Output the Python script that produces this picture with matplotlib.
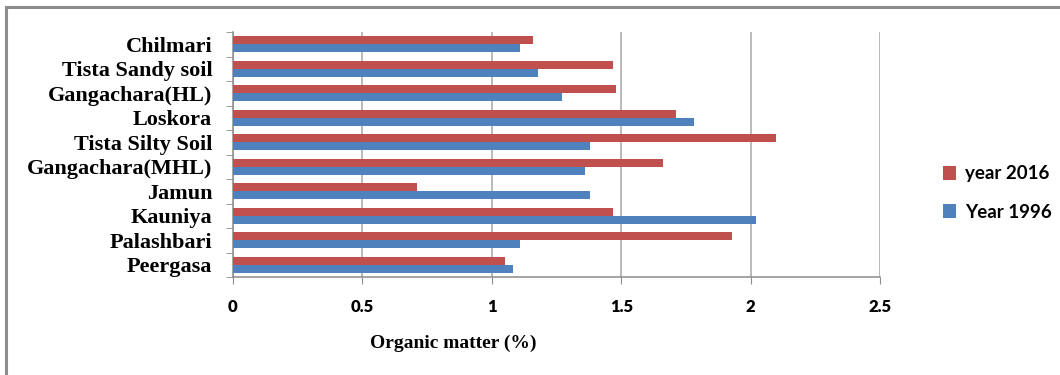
import numpy as np
import matplotlib
matplotlib.use("Agg")
import matplotlib.pyplot as plt
from matplotlib.patches import Rectangle

# Data (bottom to top as drawn)
sites = ['Peergasa', 'Palashbari', 'Kauniya', 'Jamun', 'Gangachara(MHL)',
         'Tista Silty Soil', 'Loskora', 'Gangachara(HL)', 'Tista Sandy soil', 'Chilmari']
year_2016 = [1.05, 1.93, 1.47, 0.71, 1.66, 2.10, 1.71, 1.48, 1.47, 1.16]
year_1996 = [1.08, 1.11, 2.02, 1.38, 1.36, 1.38, 1.78, 1.27, 1.18, 1.11]
x_ticks = [0, 0.5, 1, 1.5, 2, 2.5]

red = '#C0504D'
blue = '#4F81BD'

fig = plt.figure(figsize=(10.6, 3.75), dpi=100)
ax = fig.add_axes([233 / 1060, 1 - 277 / 375, (880 - 233) / 1060, (277 - 32) / 375])

# outer chart border (only top/left fall inside the image)
fig.patches.append(Rectangle((5.5 / 1060, -0.5), 2.0, 1 - 6.5 / 375 + 0.5,
                             transform=fig.transFigure, fill=False,
                             edgecolor='#8c8c8c', linewidth=2.2))

y = np.arange(len(sites))
h = 0.33
ax.barh(y + h / 2, year_2016, height=h, color=red, label='year 2016', zorder=3)
ax.barh(y - h / 2, year_1996, height=h, color=blue, label='Year 1996', zorder=3)

ax.set_xlim(0, 2.5)
ax.set_ylim(-0.5, len(sites) - 0.5)

# x axis
ax.set_xticks(x_ticks)
ax.set_xticklabels(['0', '0.5', '1', '1.5', '2', '2.5'],
                   fontfamily='Lato', fontweight='heavy', fontsize=12)
ax.tick_params(axis='x', length=5, color='#8c8c8c', pad=11)
ax.grid(axis='x', color='#a6a6a6', linewidth=1.1, zorder=0)

# y axis
ax.set_yticks(y)
ax.set_yticklabels(sites, fontfamily='Liberation Serif', fontweight='bold', fontsize=16)
ax.set_yticks(np.arange(-0.5, len(sites)), minor=True)
ax.tick_params(axis='y', which='major', length=0, pad=15)
ax.tick_params(axis='y', which='minor', length=5, color='#8c8c8c')

for s in ['top', 'right']:
    ax.spines[s].set_visible(False)
for s in ['left', 'bottom']:
    ax.spines[s].set_color('#8c8c8c')
    ax.spines[s].set_linewidth(1.1)

fig.text(453 / 1060, 1 - 343 / 375, 'Organic matter (%)', ha='center', va='center',
         fontfamily='Liberation Serif', fontweight='bold', fontsize=14)

leg = fig.legend(loc='center left', bbox_to_anchor=(926 / 1060, 1 - 193 / 375),
                 frameon=False, handlelength=0.72, handleheight=0.72, handletextpad=0.45,
                 labelspacing=1.13, prop={'family': 'Lato', 'weight': 'bold', 'size': 13.5})

fig.savefig('out.png', dpi=100)
